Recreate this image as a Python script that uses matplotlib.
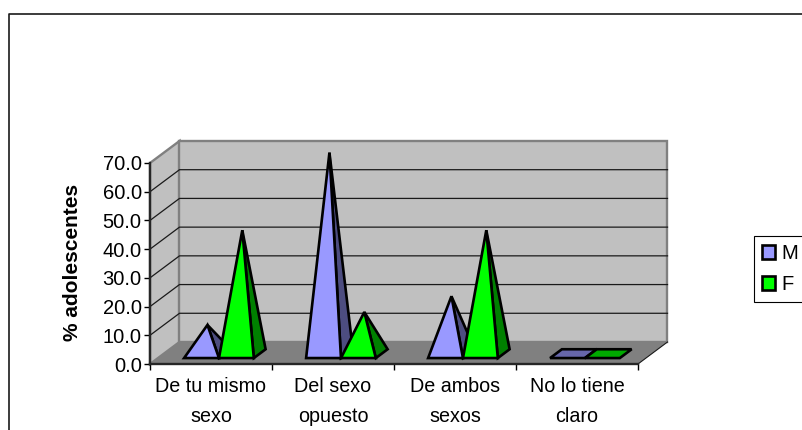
import matplotlib

matplotlib.use("Agg")
import matplotlib.pyplot as plt
from matplotlib.lines import Line2D
from matplotlib.patches import Patch, Polygon

plt.rcParams["font.family"] = ["Liberation Sans", "DejaVu Sans"]

categories = ["De tu mismo\nsexo", "Del sexo\nopuesto", "De ambos\nsexos", "No lo tiene\nclaro"]
series_names = ["M", "F"]
values_m = [10.0, 70.0, 20.0, 0.0]
values_f = [43.0, 14.5, 43.0, 0.0]
y_ticks = [0, 10, 20, 30, 40, 50, 60, 70]

WIDTH, HEIGHT = 803, 430
FRONT = {"x0": 150, "x1": 638, "y0": 364, "y1": 163}

# 3d look: how far the back wall sits from the front plane, in data units
DEPTH_X = 29.5 / 122
DEPTH_Y = 22 / 2.87
BAR_W = 1 / 3.5
BASE_FRONT, BASE_BACK = 0.27, 0.67

COLORS = {
    "M": ("#9999FF", "#4D4D80", "#6666AA"),
    "F": ("#00FF00", "#008000", "#00AA00"),
}


def project(x, y, depth):
    return x + depth * DEPTH_X, y + depth * DEPTH_Y


def add_poly(ax, points, face, edge="black", lw=1.9, zorder=3):
    ax.add_patch(
        Polygon(points, closed=True, facecolor=face, edgecolor=edge, linewidth=lw,
                joinstyle="miter", clip_on=False, zorder=zorder)
    )


def draw_walls(ax):
    n = len(categories)
    top = y_ticks[-1]
    add_poly(ax, [project(0, 0, 0), project(0, top, 0), project(0, top, 1), project(0, 0, 1)],
             "#C0C0C0", "#808080", 1.7, 1)
    add_poly(ax, [project(0, 0, 1), project(0, top, 1), project(n, top, 1), project(n, 0, 1)],
             "#C0C0C0", "#808080", 1.7, 1)
    for tick in y_ticks[1:-1]:
        ax.plot(*zip(project(0, tick, 0), project(0, tick, 1), project(n, tick, 1)),
                color="#1A1A1A", lw=0.9, clip_on=False, zorder=1.5)
    add_poly(ax, [project(0, 0, 0), project(n, 0, 0), project(n, 0, 1), project(0, 0, 1)],
             "#808080", "none", 0, 2)
    ax.plot(*zip(project(n, 0, 0), project(n, 0, 1)), color="#1A1A1A", lw=0.8,
            clip_on=False, zorder=2)


def draw_pyramid(ax, left, value, colors):
    light, dark, flat = colors
    right = left + BAR_W
    center = left + BAR_W / 2
    front_left = project(left, 0, BASE_FRONT)
    front_right = project(right, 0, BASE_FRONT)
    back_right = project(right, 0, BASE_BACK)
    back_left = project(left, 0, BASE_BACK)
    if value == 0:
        add_poly(ax, [front_left, front_right, back_right, back_left], flat)
        return
    apex = project(center, value, (BASE_FRONT + BASE_BACK) / 2)
    add_poly(ax, [front_right, back_right, apex], dark)
    add_poly(ax, [front_left, front_right, apex], light)


fig = plt.figure(figsize=(WIDTH / 100, HEIGHT / 100), dpi=100)
ax = fig.add_axes([
    FRONT["x0"] / WIDTH,
    1 - FRONT["y0"] / HEIGHT,
    (FRONT["x1"] - FRONT["x0"]) / WIDTH,
    (FRONT["y0"] - FRONT["y1"]) / HEIGHT,
])
ax.patch.set_visible(False)
ax.set_xlim(0, len(categories))
ax.set_ylim(0, y_ticks[-1])

draw_walls(ax)
for i, (m, f) in enumerate(zip(values_m, values_f)):
    start = i + 0.75 * BAR_W
    draw_pyramid(ax, start, m, COLORS["M"])
    draw_pyramid(ax, start + BAR_W, f, COLORS["F"])

for side in ("top", "right"):
    ax.spines[side].set_visible(False)
for side in ("left", "bottom"):
    ax.spines[side].set_linewidth(1.7)
    ax.spines[side].set_color("#262626")
    ax.spines[side].set_zorder(4)

ax.set_yticks(y_ticks)
ax.set_yticklabels([f"{t:.1f}" for t in y_ticks], fontsize=14.5)
ax.tick_params(axis="y", length=4, width=1, pad=2)
ax.set_xticks(range(len(categories) + 1))
ax.set_xticklabels([])
ax.tick_params(axis="x", which="major", length=4, width=1)
ax.set_xticks([i + 0.5 for i in range(len(categories))], minor=True)
ax.set_xticklabels(categories, minor=True, fontsize=14.2, linespacing=1.75)
ax.tick_params(axis="x", which="minor", length=0, pad=9.5)

fig.text(73 / WIDTH, 1 - 262 / HEIGHT, "% adolescentes", rotation=90, fontsize=15,
         fontweight="bold", ha="center", va="center")

# chart area border runs off the right and bottom of the picture
fig.add_artist(Line2D([9 / WIDTH, 9 / WIDTH, 1], [0, 1 - 14 / HEIGHT, 1 - 14 / HEIGHT],
                      color="#1A1A1A", lw=1.2))

handles = [
    Patch(facecolor=COLORS[name][0], edgecolor="black", linewidth=1.9, label=name)
    for name in series_names
]
legend = fig.legend(
    handles=handles,
    loc="upper left",
    bbox_to_anchor=(754 / WIDTH, 1 - 236 / HEIGHT),
    bbox_transform=fig.transFigure,
    borderaxespad=0,
    fontsize=14.5,
    fancybox=False,
    framealpha=1,
    edgecolor="black",
    handlelength=0.65,
    handleheight=0.65,
    handletextpad=0.3,
    labelspacing=0.6,
    borderpad=0.4,
)
legend.get_frame().set_linewidth(0.8)

fig.savefig("out.png", dpi=100)
plt.close(fig)
